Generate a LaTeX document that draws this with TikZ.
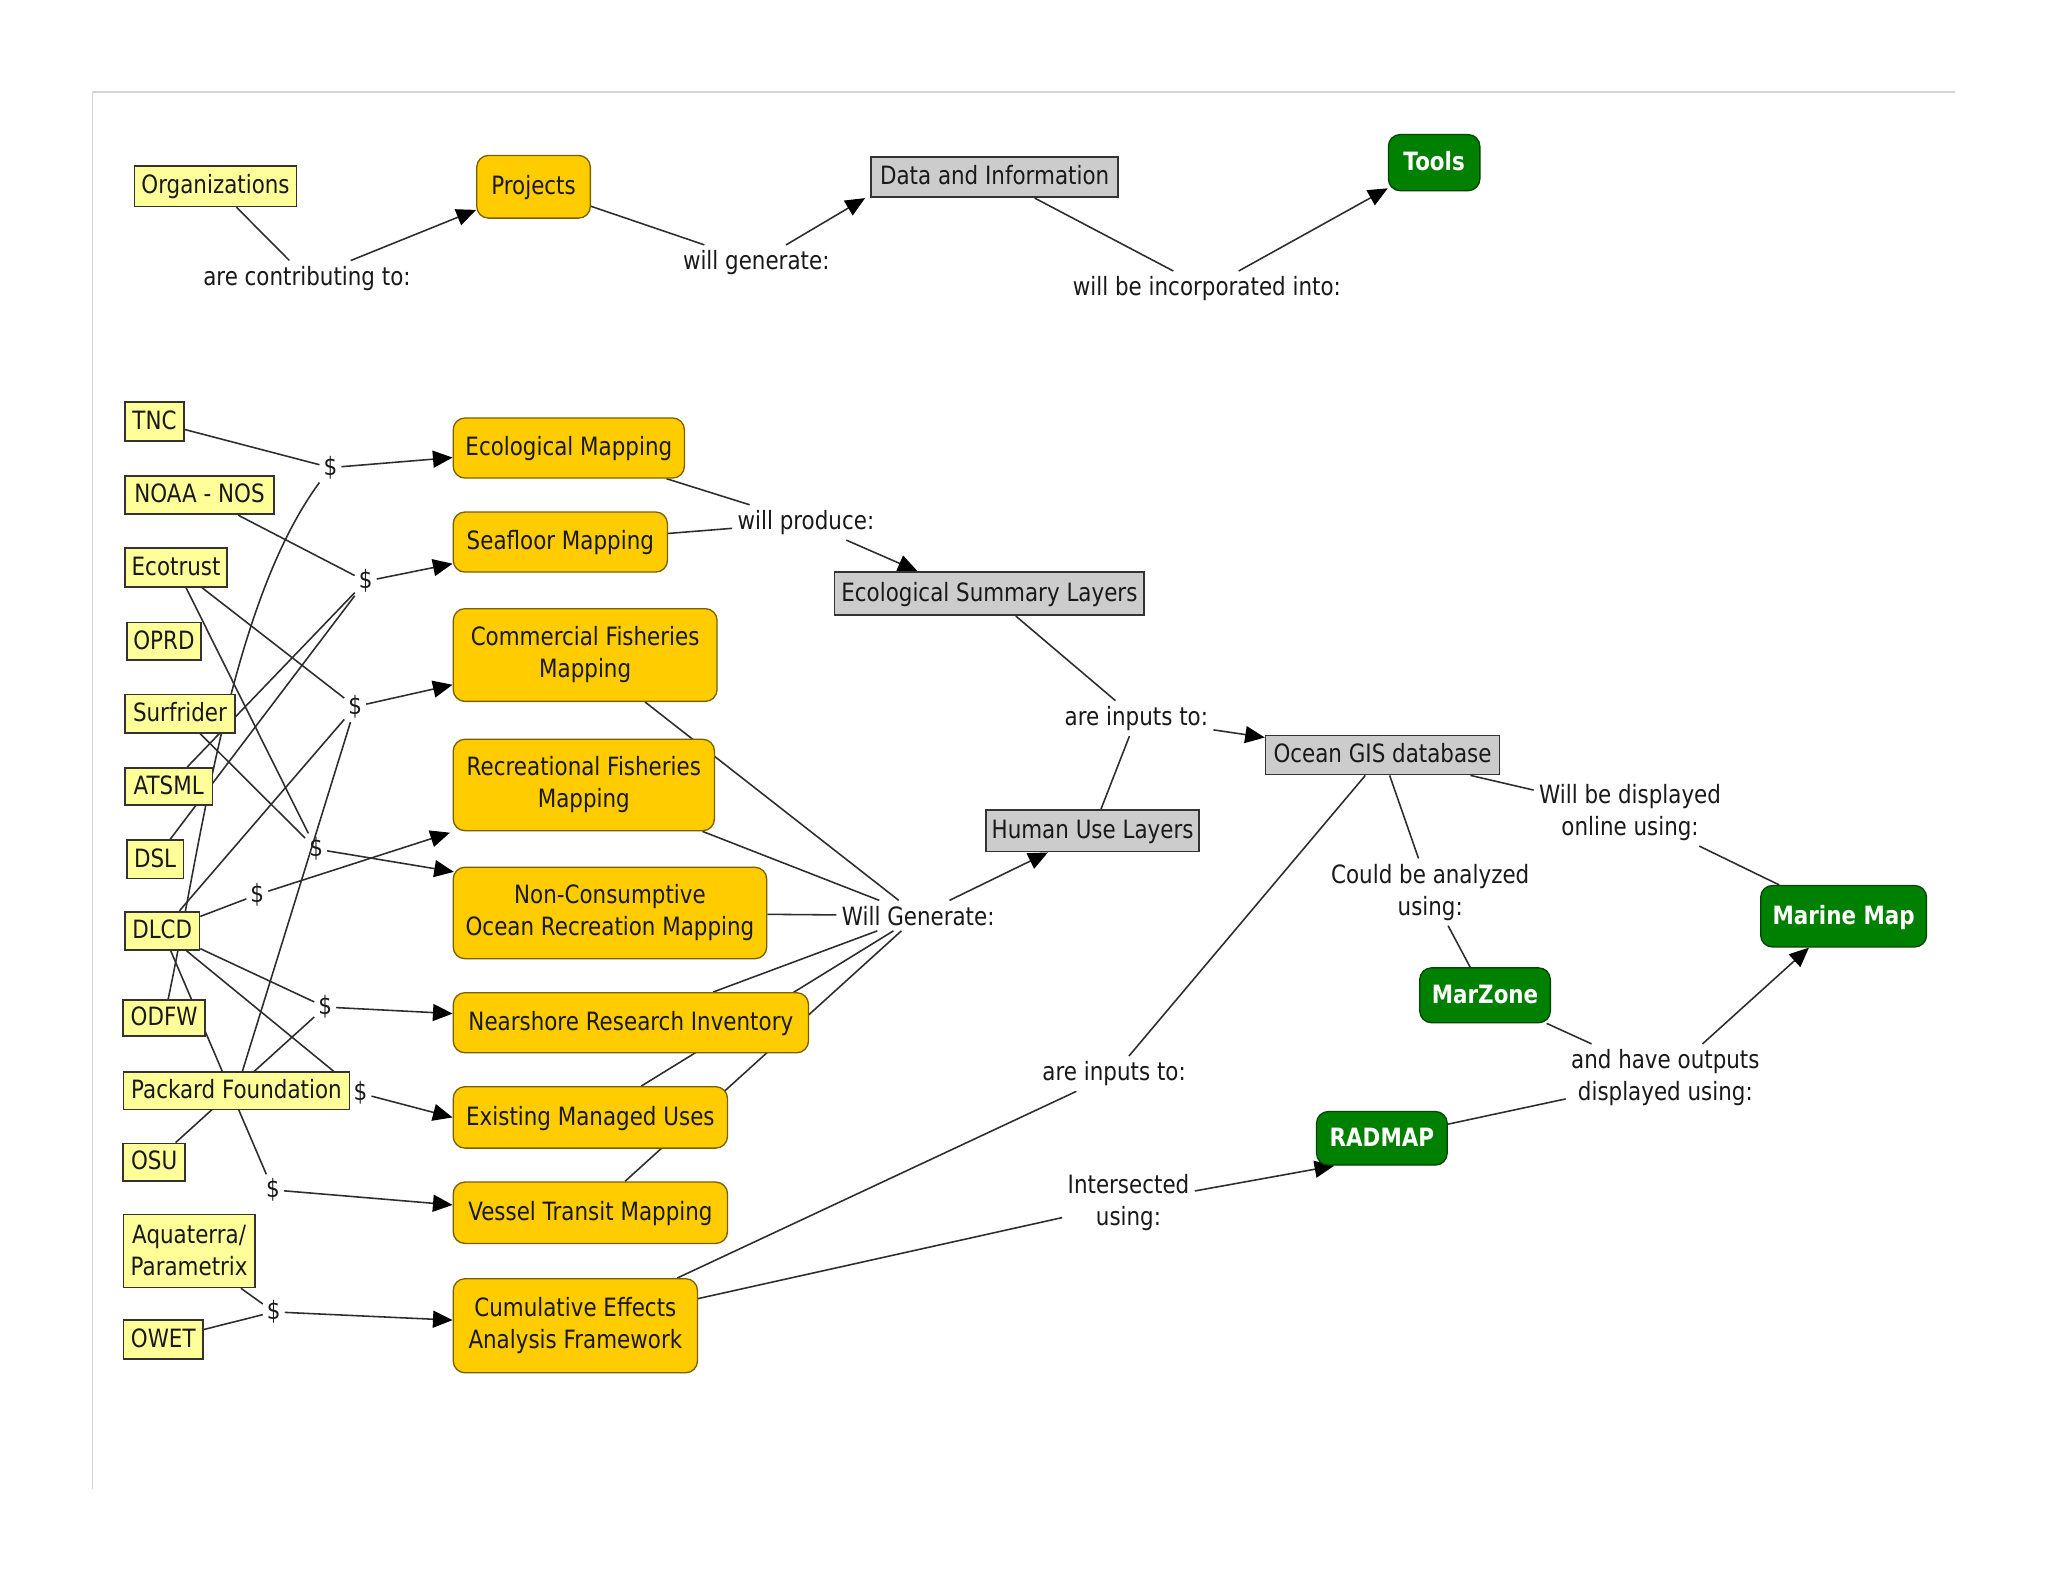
\documentclass[tikz,border=0pt]{standalone}
\usepackage{fontspec}
\setmainfont[FakeStretch=0.85]{DejaVu Sans}
\usetikzlibrary{arrows.meta,calc}
\pgfdeclarelayer{back}
\pgfdeclarelayer{bg}
\pgfsetlayers{back,bg,main}
\definecolor{orgfill}{RGB}{255,255,153}
\definecolor{projfill}{RGB}{255,204,0}
\definecolor{projdraw}{RGB}{120,96,0}
\definecolor{grayfill}{RGB}{204,204,204}
\definecolor{toolfill}{RGB}{0,128,0}
\definecolor{tooldraw}{RGB}{0,70,0}
\definecolor{linkc}{RGB}{45,45,45}
\definecolor{framec}{RGB}{212,212,212}
\definecolor{txt}{RGB}{25,25,25}
\begin{document}
\begin{tikzpicture}[x=1pt,y=-1pt,
  font=\fontsize{19.3}{24.5}\selectfont,
  base/.style={inner sep=0pt, align=center, text=txt},
  sz/.style 2 args={minimum width=#1pt, minimum height=#2pt},
  one/.style={text height=14.5pt, text depth=2.5pt},
  org/.style={base, draw=black!80, fill=orgfill, line width=1.3pt},
  proj/.style={base, draw=projdraw, fill=projfill, line width=1pt, rounded corners=9pt},
  info/.style={base, draw=black!80, fill=grayfill, line width=1.3pt},
  tool/.style={base, draw=tooldraw, fill=toolfill, line width=1pt, rounded corners=9pt, text=white, font=\fontsize{19.3}{24.5}\selectfont\bfseries},
  lbl/.style={align=center, inner sep=4pt, text=txt},
  cash/.style={inner sep=3pt, text=txt},
  lnk/.style={draw=linkc, line width=1.2pt},
  arr/.style={lnk, -{Triangle[length=15pt,width=13pt,color=black]}},
]
\begin{pgfonlayer}{back}
\fill[white] (0,0) rectangle (1568,1211);
\draw[framec, line width=1pt] (1497,70.5) -- (71,70.5) -- (71,1140);
\end{pgfonlayer}
\useasboundingbox (0,0) rectangle (1568,1211);

% ---------- top row ----------
\node[org, sz={124}{31}, one] (org0) at (165,142.5) {Organizations};
\node[proj, sz={87}{48}, one] (proj0) at (408.5,143) {Projects};
\node[info, sz={189}{31}, one] (data0) at (761.5,135.5) {Data and Information};
\node[tool, sz={70}{43}, one] (tools) at (1098,124.5) {Tools};
\node[lbl] (lcontrib) at (235,213) {are contributing to:};
\node[lbl] (lgen) at (579,201) {will generate:};
\node[lbl] (lincorp) at (924,221) {will be incorporated into:};

% ---------- organizations ----------
\node[org, sz={45}{30}, one] (tnc) at (118.3,322.8) {TNC};
\node[org, sz={114}{29.3}, one] (noaa) at (152.8,379.1) {NOAA - NOS};
\node[org, sz={78.3}{29.4}, one] (ecotrust) at (134.8,434.5) {Ecotrust};
\node[org, sz={57}{29}, one] (oprd) at (125.5,491) {OPRD};
\node[org, sz={84.3}{29.4}, one] (surfrider) at (137.8,546.3) {Surfrider};
\node[org, sz={67}{28.6}, one] (atsml) at (129.1,602.1) {ATSML};
\node[org, sz={43.4}{29.3}, one] (dsl) at (118.7,657.9) {DSL};
\node[org, sz={57}{29.4}, one] (dlcd) at (124.2,712.7) {DLCD};
\node[org, sz={62.6}{27.6}, one] (odfw) at (125.7,779.5) {ODFW};
\node[org, sz={173}{28.8}, one] (packard) at (181,835) {Packard Foundation};
\node[org, sz={47.2}{28.6}, one] (osu) at (118,889.7) {OSU};
\node[org, sz={100.5}{55.9}] (aqua) at (144.8,957.7) {Aquaterra/\\Parametrix};
\node[org, sz={61}{30}, one] (owet) at (125,1025.7) {OWET};

% ---------- funding links ----------
\node[cash] (d1) at (253,358) {\$};
\node[cash] (d2) at (280,445) {\$};
\node[cash] (d3) at (272,541) {\$};
\node[cash] (d4) at (242,650) {\$};
\node[cash] (d5) at (197,685) {\$};
\node[cash] (d6) at (249,771) {\$};
\node[cash] (d7) at (276,837) {\$};
\node[cash] (d8) at (209,911) {\$};
\node[cash] (d9) at (209.6,1004.4) {\$};

% ---------- projects ----------
\node[proj, sz={177}{46}, one] (ecol) at (435.5,343) {Ecological Mapping};
\node[proj, sz={164}{46}, one] (sea) at (429,415) {Seafloor Mapping};
\node[proj, sz={202}{71}] (comm) at (448,501.5) {Commercial Fisheries\\Mapping};
\node[proj, sz={200}{70}] (recr) at (447,601) {Recreational Fisheries\\Mapping};
\node[proj, sz={240}{70}] (noncons) at (467,699) {Non-Consumptive\\Ocean Recreation Mapping};
\node[proj, sz={272}{46}, one] (near) at (483,783) {Nearshore Research Inventory};
\node[proj, sz={210}{47}, one] (exist) at (452,855.5) {Existing Managed Uses};
\node[proj, sz={210}{47}, one] (vessel) at (452,928.5) {Vessel Transit Mapping};
\node[proj, sz={187}{72}] (cumul) at (440.5,1015) {Cumulative Effects\\Analysis Framework};

% ---------- data layers ----------
\node[info, sz={237}{33}, one] (esl) at (757.5,454.5) {Ecological Summary Layers};
\node[info, sz={163}{32}, one] (hul) at (836.5,636) {Human Use Layers};
\node[info, sz={179}{30}, one] (ogis) at (1058.5,578) {Ocean GIS database};

% ---------- tools ----------
\node[tool, sz={127}{47}, one] (mmap) at (1411.5,701.5) {Marine Map};
\node[tool, sz={100}{42}, one] (marzone) at (1137,762) {MarZone};
\node[tool, sz={100}{41}, one] (radmap) at (1058,871.5) {RADMAP};

% ---------- linking phrases ----------
\node[lbl] (lprod) at (617,400) {will produce:};
\node[lbl] (lin1) at (870,550) {are inputs to:};
\node[lbl] (lwg) at (703,701) {Will Generate:};
\node[lbl] (ldisp) at (1248,622) {Will be displayed\\online using:};
\node[lbl] (lanal) at (1095,683) {Could be analyzed\\using:};
\node[lbl] (lout) at (1275,825) {and have outputs\\displayed using:};
\node[lbl] (lin2) at (853,822) {are inputs to:};
\node[lbl] (linter) at (864,921) {Intersected\\using:};

\begin{pgfonlayer}{bg}
% top row
\draw[lnk] (org0) -- (lcontrib);
\draw[arr] (lcontrib) -- (proj0);
\draw[lnk] (proj0) -- (lgen);
\draw[arr] (lgen) -- ($(data0.south west)+(-4,0)$);
\draw[lnk] (data0) -- (lincorp);
\draw[arr] (lincorp) -- (tools);
% organizations to funding
\draw[lnk] (tnc) -- (d1);
\draw[lnk] (odfw) .. controls (155,640) and (177,461) .. (d1);
\draw[lnk] (noaa) -- (d2);
\draw[lnk] (atsml) -- (d2);
\draw[lnk] (dsl) -- (d2);
\draw[lnk] (ecotrust) -- (d3);
\draw[lnk] (dlcd) -- (d3);
\draw[lnk] (packard) -- (d3);
\draw[lnk] (ecotrust) -- (d4);
\draw[lnk] (surfrider) -- (d4);
\draw[lnk] (dlcd) -- (d5);
\draw[lnk] (dlcd) -- (d6);
\draw[lnk] (osu) -- (d6);
\draw[lnk] (dlcd) -- (d7);
\draw[lnk] (dlcd) -- (d8);
\draw[lnk] (aqua) -- (d9);
\draw[lnk] (owet) -- (d9);
% funding to projects
\draw[arr] (d1) -- (ecol);
\draw[arr] (d2) -- (sea);
\draw[arr] (d3) -- (comm);
\draw[arr] (d4) -- ($(noncons.north west)+(1,4)$);
\draw[arr] (d5) -- ($(recr.south west)+(-2,1)$);
\draw[arr] (d6) -- (near);
\draw[arr] (d7) -- (exist.west);
\draw[arr] (d8) -- ($(vessel.west)+(0,-6)$);
\draw[arr] (d9) -- (cumul);
% projects to layers
\draw[lnk] (ecol) -- (lprod);
\draw[lnk] (sea) -- (lprod);
\draw[arr] (lprod) -- ($(esl.north)+(-55,0)$);
\draw[lnk] (esl) -- (lin1);
\draw[lnk] (hul) -- (lin1);
\draw[arr] (lin1) -- (ogis);
\draw[lnk] (comm) -- (lwg);
\draw[lnk] (recr) -- (lwg);
\draw[lnk] (noncons) -- (lwg);
\draw[arr] (lwg) -- (hul);
\draw[lnk] (lwg) -- (near);
\draw[lnk] (lwg) -- (exist);
\draw[lnk] (lwg) -- (vessel);
% database and tools
\draw[lnk] (ogis) -- (ldisp);
\draw[lnk] (ldisp) -- (mmap);
\draw[lnk] (ogis) -- (lanal);
\draw[lnk] (lanal) -- (marzone);
\draw[lnk] (marzone) -- (lout);
\draw[arr] (lout) -- (mmap);
\draw[lnk] (radmap) -- (lout);
\draw[lnk] (ogis) -- (lin2);
\draw[lnk] (cumul) -- (lin2);
\draw[lnk] (cumul) -- (linter);
\draw[arr] (linter) -- ($(radmap.south west)+(14,0)$);
\end{pgfonlayer}
\end{tikzpicture}
\end{document}
